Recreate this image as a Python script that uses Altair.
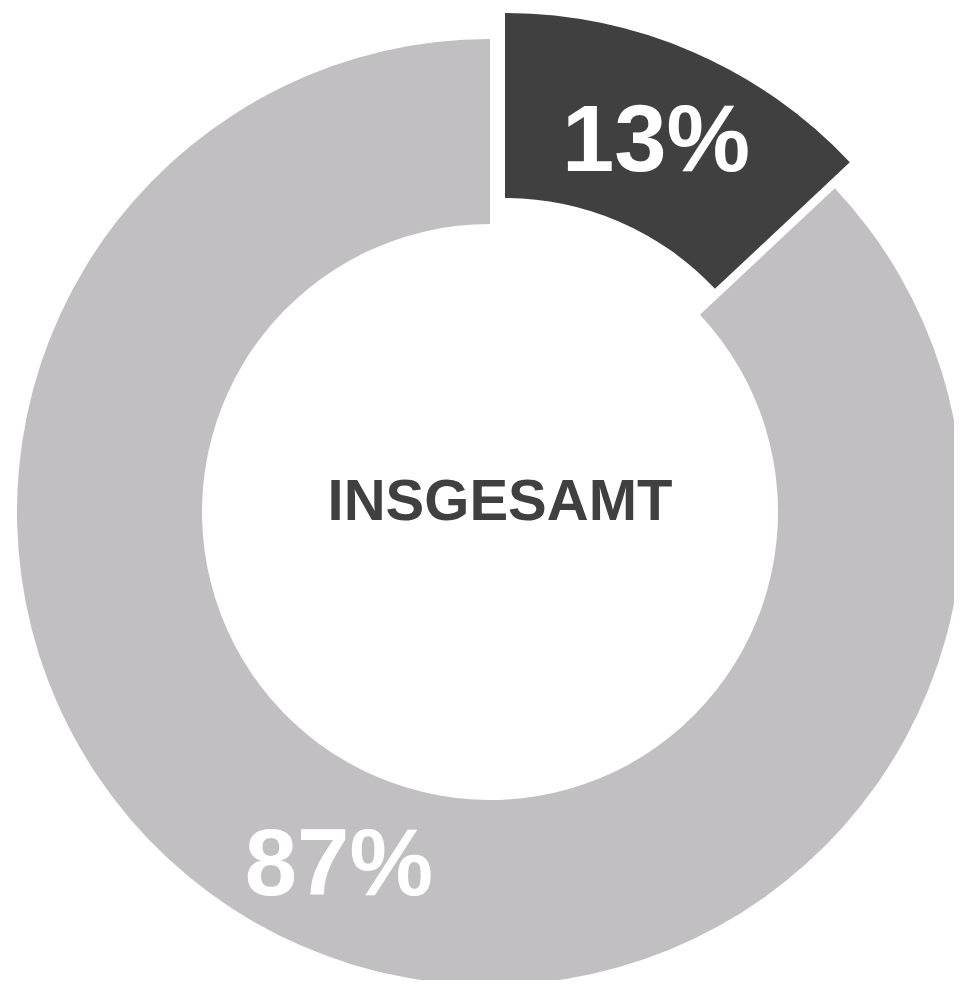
import altair as alt
import pandas as pd

# --- data ---
segments = ["Anteil", "Übrige"]
shares = [13, 87]
labels = ["13%", "87%"]
order = [0, 1]
colors = ["#404040", "#c1bfc1"]
center_label = ["INSGESAMT"]

df = pd.DataFrame({"segment": segments, "share": shares, "label": labels, "order": order})
center_df = pd.DataFrame({"text": center_label})

FONT = "Liberation Sans"
theta_scale = alt.Scale(domain=[0, 100])
color_enc = alt.Color("segment:N", scale=alt.Scale(domain=segments, range=colors), legend=None)

# donut geometry (pixels)
CX, CY = 482, 504
R_OUT, R_IN = 473, 288
R_LABEL = (R_OUT + R_IN) / 2
EXPLODE_DX, EXPLODE_DY = 15, -26

base = (
    alt.Chart(df)
    .transform_window(end="sum(share)", frame=[None, 0], sort=[alt.SortField("order")])
    .transform_calculate(start="datum.end - datum.share", mid="datum.end - datum.share / 2")
)

def arc_layer(idx, cx, cy):
    return base.transform_filter(alt.datum.order == idx).mark_arc(stroke=None).encode(
        theta=alt.Theta("start:Q", scale=theta_scale),
        theta2="end:Q",
        color=color_enc,
        x=alt.value(cx),
        y=alt.value(cy),
        radius=alt.value(R_OUT),
        radius2=alt.value(R_IN),
    )

def label_layer(idx, cx, cy):
    return base.transform_filter(alt.datum.order == idx).mark_text(
        font=FONT, fontSize=94, fontWeight="bold", color="white",
        align="center", baseline="middle", dy=6,
    ).encode(
        theta=alt.Theta("mid:Q", scale=theta_scale),
        radius=alt.value(R_LABEL),
        x=alt.value(cx),
        y=alt.value(cy),
        text="label:N",
    )

gray_arc = arc_layer(1, CX, CY)
dark_arc = arc_layer(0, CX + EXPLODE_DX, CY + EXPLODE_DY)
gray_label = label_layer(1, CX, CY)
dark_label = label_layer(0, CX + EXPLODE_DX, CY + EXPLODE_DY)

center = alt.Chart(center_df).mark_text(
    font=FONT, fontSize=58, fontWeight="bold", color="#404040",
    align="center", baseline="alphabetic",
).encode(text="text:N", x=alt.value(CX + 10), y=alt.value(CY + 8))

chart = (
    alt.layer(gray_arc, dark_arc, gray_label, dark_label, center)
    .properties(width=946, height=972, padding=0, autosize="none")
    .configure_view(stroke=None)
)

chart.save("out.html", embed_options={"renderer": "svg", "actions": False})
